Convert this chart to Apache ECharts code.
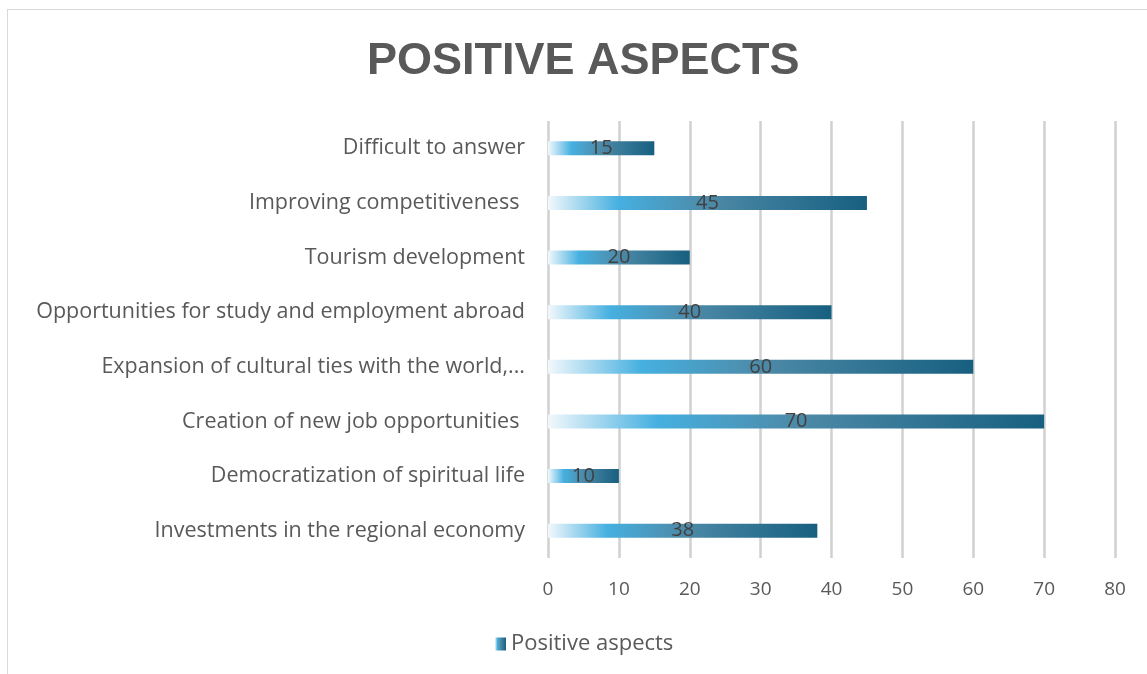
<!DOCTYPE html>
<html lang="en">
<head>
    <meta charset="UTF-8">
    <title>Positive aspects</title>
    <script src="https://cdn.jsdelivr.net/npm/echarts@6/dist/echarts.min.js"></script>
    <style>
        body {
            margin: 0;
            padding: 0;
            background: #ffffff;
            overflow: hidden;
        }

        #frame {
            position: absolute;
            left: 7px;
            top: 9px;
            width: 1160px;
            height: 700px;
            border: 1px solid #d9d9d9;
        }

        #chart {
            position: absolute;
            left: 0;
            top: 0;
            width: 1147px;
            height: 674px;
        }
    </style>
</head>
<body>
    <div id="frame"></div>
    <div id="chart"></div>

    <script>
        // categories, bottom to top as drawn
        const categories = [
            'Investments in the regional economy',
            'Democratization of spiritual life',
            'Creation of new job opportunities ',
            'Expansion of cultural ties with the world,...',
            'Opportunities for study and employment abroad',
            'Tourism development',
            'Improving competitiveness ',
            'Difficult to answer'
        ];
        const values = [38, 10, 70, 60, 40, 20, 45, 15];
        const seriesName = 'Positive aspects';

        const barGradient = new echarts.graphic.LinearGradient(0, 0, 1, 0, [
            { offset: 0, color: '#f2f8fc' },
            { offset: 0.22, color: '#46b0e0' },
            { offset: 0.5, color: '#4d8aa8' },
            { offset: 1, color: '#175f80' }
        ]);

        const chart = echarts.init(document.getElementById('chart'));
        chart.setOption({
            textStyle: { fontFamily: '"Open Sans", sans-serif' },
            title: {
                text: 'POSITIVE ASPECTS',
                left: 362,
                top: 34,
                textStyle: {
                    fontSize: 45,
                    fontWeight: 'bold',
                    color: '#595959',
                    fontFamily: 'Liberation Sans, sans-serif'
                }
            },
            legend: {
                bottom: 14,
                left: 490,
                itemWidth: 11,
                itemHeight: 13,
                itemGap: 6,
                icon: 'rect',
                textStyle: { fontSize: 22, color: '#595959' },
                data: [seriesName]
            },
            grid: {
                left: 548,
                right: 32,
                top: 121,
                bottom: 116
            },
            xAxis: {
                type: 'value',
                min: 0,
                max: 80,
                interval: 10,
                axisLine: { show: false },
                axisTick: { show: false },
                axisLabel: { fontSize: 19, color: '#595959', margin: 22 },
                splitLine: { lineStyle: { color: '#d0d0d0', width: 2.5 } }
            },
            yAxis: {
                type: 'category',
                data: categories,
                axisLine: { show: false },
                axisTick: { show: false },
                axisLabel: { fontSize: 21.5, color: '#595959', margin: 23 }
            },
            series: [{
                name: seriesName,
                type: 'bar',
                data: values,
                barWidth: 14,
                itemStyle: { color: barGradient },
                label: {
                    show: true,
                    position: 'inside',
                    fontSize: 20,
                    color: '#404040'
                }
            }]
        });
    </script>
</body>
</html>
